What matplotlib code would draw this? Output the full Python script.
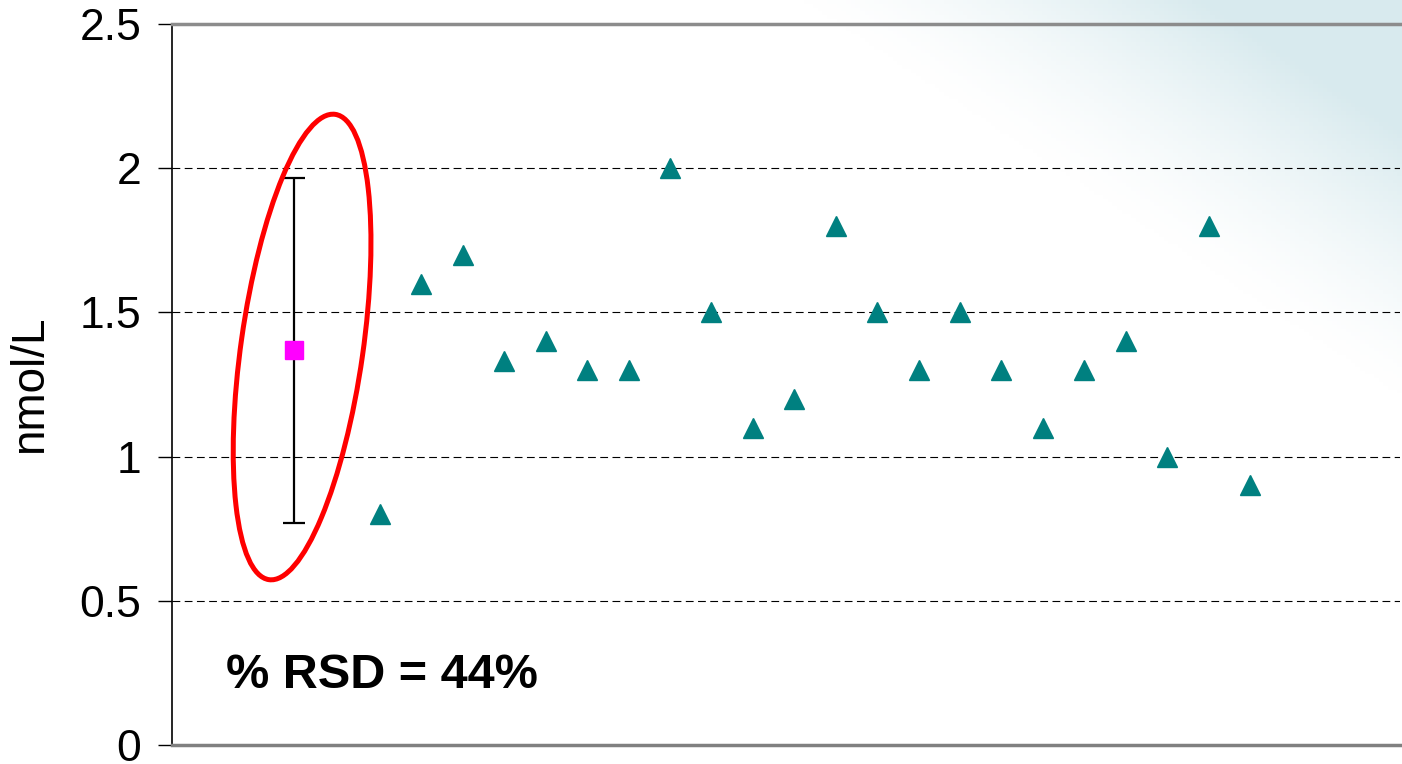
import numpy as np
import matplotlib
matplotlib.use('Agg')
import matplotlib.pyplot as plt
import matplotlib.transforms as transforms
from matplotlib.patches import Ellipse

plt.rcParams['font.family'] = ['Liberation Sans', 'DejaVu Sans']

# data
sample_x = list(range(2, 24))
sample_vals = [0.8, 1.6, 1.7, 1.33, 1.4, 1.3, 1.3, 2.0, 1.5, 1.1, 1.2,
               1.8, 1.5, 1.3, 1.5, 1.3, 1.1, 1.3, 1.4, 1.0, 1.8, 0.9]
mean_x = -0.08
mean_val = 1.37
err_lo = 0.77
err_hi = 1.965
y_ticks = [0, 0.5, 1, 1.5, 2, 2.5]
y_ticklabels = ['0', '0.5', '1', '1.5', '2', '2.5']
rsd_text = '% RSD = 44%'

fig = plt.figure(figsize=(14.02, 7.64), dpi=100)

# faint teal wash in the top right corner of the slide background
bg = fig.add_axes([0, 0, 1, 1], zorder=-5)
gx, gy = np.meshgrid(np.linspace(0, 1, 300), np.linspace(0, 1, 200))
wash = np.clip((gx - 0.8) * 3.4 + (gy - 0.72) * 2.8, 0, 1) ** 1.4
bg.imshow(wash, cmap=matplotlib.colors.LinearSegmentedColormap.from_list('w', ['#ffffff', '#d8eaee']),
          origin='lower', extent=[0, 1, 0, 1], aspect='auto', vmin=0, vmax=1)
bg.axis('off')

ax = fig.add_axes([172 / 1402, 19 / 764, 1228 / 1402, 721 / 764])
ax.patch.set_alpha(0)

ax.plot(sample_x, sample_vals, linestyle='none', marker='^', ms=14.5,
        color='#008080', zorder=4)
ax.errorbar([mean_x], [mean_val],
            yerr=[[mean_val - err_lo], [err_hi - mean_val]],
            fmt='s', ms=12.5, color='#ff00ff', ecolor='black',
            elinewidth=1.6, capsize=8, capthick=1.6, zorder=4)

# red ellipse drawn in pixel units around the mean point
trans = fig.dpi_scale_trans + transforms.ScaledTranslation(0.12, 1.38, ax.transData)
ell = Ellipse((0, 0), 1.22, 4.7, angle=-8.1, fill=False, edgecolor='#ff0000',
              linewidth=3.6, transform=trans, zorder=5)
ax.add_patch(ell)

ax.text(-1.72, 0.24, rsd_text, fontsize=35, fontweight='bold', ha='left', va='center')

ax.set_xlim(-3.02, 26.62)
ax.set_ylim(0, 2.5)
ax.set_xticks([])
ax.set_yticks(y_ticks)
ax.set_yticklabels(y_ticklabels, fontsize=32)
ax.tick_params(axis='y', length=10, width=1, direction='out', pad=12)
ax.set_ylabel('nmol/L', fontsize=33, labelpad=20)

for yv in y_ticks[1:-1]:
    ax.axhline(yv, color='black', linestyle=(0, (7, 4)), linewidth=0.8, zorder=1)

ax.spines['left'].set_color('black')
ax.spines['left'].set_linewidth(1.2)
ax.spines['bottom'].set_color('#808080')
ax.spines['bottom'].set_linewidth(2.5)
ax.spines['top'].set_color('#8c8c8c')
ax.spines['top'].set_linewidth(2.5)
ax.spines['right'].set_visible(False)

fig.savefig('out.png', dpi=100)
